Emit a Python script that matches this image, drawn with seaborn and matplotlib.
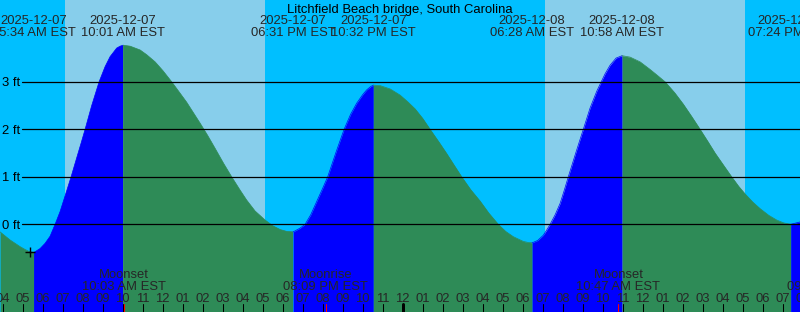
import numpy as np
import pandas as pd
import matplotlib
matplotlib.use("Agg")
import matplotlib.pyplot as plt
from matplotlib.transforms import blended_transform_factory
import seaborn as sns

# ---------------- data ----------------
title = "Litchfield Beach bridge, South Carolina"

hours = [3.87, 4.37, 4.87, 5.12, 5.37, 5.57, 5.87, 6.12, 6.37, 6.62, 6.87, 7.12, 7.42,
         7.70, 7.92, 8.12, 8.45, 8.82, 9.12, 9.37, 9.70, 9.87, 10.02, 10.37, 10.87,
         11.20, 11.62, 12.02, 12.45, 12.87, 13.20, 13.87, 14.25, 14.62, 15.05, 15.45,
         15.87, 16.20, 16.62, 17.12, 17.50, 17.87, 18.20, 18.52, 18.87, 19.12, 19.40,
         19.70, 20.00, 20.25, 20.65, 21.07, 21.40, 21.70, 22.00, 22.20, 22.40, 22.53,
         22.87, 23.37, 23.87, 24.25, 24.62, 25.00, 25.37, 25.80, 26.20, 26.55, 26.95,
         27.40, 27.87, 28.30, 28.78, 29.15, 29.53, 30.03, 30.25, 30.47, 30.75, 31.03,
         31.20, 31.37, 31.62, 31.87, 32.08, 32.28, 32.65, 33.03, 33.37, 33.70, 33.87,
         34.12, 34.37, 34.67, 34.97, 35.37, 35.87, 36.37, 36.75, 37.12, 37.60, 38.03,
         38.45, 38.87, 39.25, 39.62, 40.05, 40.45, 40.80, 41.12, 41.50, 41.87, 42.30,
         42.70, 43.05, 43.40, 43.87]
heights = [-0.16, -0.33, -0.47, -0.53, -0.58, -0.59, -0.51, -0.40, -0.25, 0.00, 0.27, 0.60, 1.00,
           1.40, 1.71, 2.00, 2.50, 3.00, 3.32, 3.53, 3.71, 3.75, 3.77, 3.75, 3.67,
           3.57, 3.42, 3.23, 3.00, 2.76, 2.57, 2.13, 1.87, 1.60, 1.28, 1.00,
           0.72, 0.51, 0.28, 0.09, -0.03, -0.11, -0.15, -0.16, -0.08, 0.00, 0.20,
           0.48, 0.76, 1.00, 1.50, 2.00, 2.32, 2.55, 2.73, 2.83, 2.90, 2.93,
           2.92, 2.85, 2.72, 2.58, 2.43, 2.23, 2.00, 1.74, 1.49, 1.26, 1.00,
           0.73, 0.49, 0.24, 0.00, -0.15, -0.26, -0.36, -0.38, -0.39, -0.34, -0.23,
           -0.12, 0.00, 0.20, 0.44, 0.72, 1.00, 1.50, 2.00, 2.45, 2.80, 2.95,
           3.17, 3.35, 3.50, 3.55, 3.52, 3.42, 3.26, 3.13, 3.00, 2.77, 2.53,
           2.27, 2.00, 1.75, 1.50, 1.24, 1.00, 0.80, 0.64, 0.47, 0.33, 0.19,
           0.09, 0.03, 0.00, 0.05]

event_hours = [5.57, 10.02, 18.52, 22.53, 30.47, 34.97, 43.40]
event_dates = ["2025-12-07", "2025-12-07", "2025-12-07", "2025-12-07",
               "2025-12-08", "2025-12-08", "2025-12-08"]
event_times = ["05:34 AM EST", "10:01 AM EST", "06:31 PM EST", "10:32 PM EST",
               "06:28 AM EST", "10:58 AM EST", "07:24 PM EST"]

sunrise_hours = [7.117, 31.117]
sunset_hours = [17.117, 41.117]

moon_hours = [10.05, 20.15, 34.783, 45.317]
moon_names = ["Moonset", "Moonrise", "Moonset", "Moonrise"]
moon_times = ["10:03 AM EST", "08:09 PM EST", "10:47 AM EST", "09:19 PM EST"]

now_hour = [5.37]
now_height = [-0.59]

ft_levels = [0, 1, 2, 3]
ft_labels = ["0 ft", "1 ft", "2 ft", "3 ft"]

# ---------------- style ----------------
NIGHT = "#00BFFF"
DAY = "#87CEEB"
RISE = "#0000FF"
FALL = "#2E8B57"
W, H = 800, 312
X0, X1 = 3.865, 43.865
Y0, Y1 = -1.846, 4.722
PX_PER_FT = 47.5
FS = 13 * 72 / 100

sns.set_theme(style="white")
plt.rcParams['font.family'] = ['Liberation Sans', 'DejaVu Sans']

fig = plt.figure(figsize=(W / 100, H / 100), dpi=100)
ax = fig.add_axes([0, 0, 1, 1])
ax.set_xlim(X0, X1)
ax.set_ylim(Y0, Y1)
ax.set_axis_off()
bt = blended_transform_factory(ax.transData, ax.transAxes)


def yf(py):
    return 1 - py / H


# background day / night
edges = [X0]
for r, s in zip(sunrise_hours, sunset_hours):
    edges += [r, s]
edges.append(X1)
for i in range(len(edges) - 1):
    ax.axvspan(edges[i], edges[i + 1], color=NIGHT if i % 2 == 0 else DAY, lw=0, zorder=0)

# tide segments (falling = green, rising = blue)
df = pd.DataFrame({"hour": hours, "height": heights})
bounds = [hours[0]] + event_hours + [hours[-1]]
parts = []
colors = []
for i in range(len(bounds) - 1):
    seg = df[(df.hour >= bounds[i] - 1e-9) & (df.hour <= bounds[i + 1] + 1e-9)].copy()
    if len(seg) < 2:
        continue
    seg["segment"] = str(len(parts))
    rising = seg.height.iloc[-1] > seg.height.iloc[0]
    c = RISE if rising else FALL
    colors.append(c)
    parts.append(seg)
    ax.fill_between(seg.hour, seg.height, Y0 - 1, color=c, lw=0, zorder=1)
long = pd.concat(parts, ignore_index=True)
sns.lineplot(data=long, x="hour", y="height", hue="segment", palette=colors,
             lw=0.5, legend=False, ax=ax, zorder=2, sort=False, estimator=None,
             solid_joinstyle="round")

# level lines
tft = blended_transform_factory(ax.transAxes, ax.transData)
for lv, lb in zip(ft_levels, ft_labels):
    ax.axhline(lv, xmin=21.7 / W, xmax=1, color="black", lw=0.9, zorder=3)
    ax.text(2 / W, lv - 1.2 / PX_PER_FT, lb, transform=tft,
            ha="left", va="center", fontsize=FS, color="black", zorder=4)

# now marker
ax.plot(now_hour, now_height, marker="+", ms=7, mew=1.0, color="black", ls="none", zorder=5)

# title and tide event labels
ax.text(0.5, yf(9.5), title, transform=ax.transAxes, ha="center", va="center",
        fontsize=FS, color="black", zorder=6)
for h, d, t in zip(event_hours, event_dates, event_times):
    ax.text(h, yf(21.5), d, transform=bt, ha="center", va="center", fontsize=FS, zorder=6)
    ax.text(h, yf(33.3), t, transform=bt, ha="center", va="center", fontsize=FS, zorder=6)

# hour ticks and labels
for h in range(int(np.floor(X0)), int(np.ceil(X1)) + 1):
    lw = 3.0 * 72 / 100 if h % 24 == 0 else 0.75
    ax.axvline(h, ymin=0, ymax=8 / H, color="black", lw=lw, zorder=4)
    lab = "%02d" % (((h % 12) + 11) % 12 + 1)
    ax.text(h, yf(299.5), lab, transform=bt, ha="center", va="center", fontsize=FS, zorder=6)

# moon events
for h, n, t in zip(moon_hours, moon_names, moon_times):
    ax.axvline(h, ymin=0, ymax=8 / H, color="red", lw=0.75, zorder=5)
    ax.text(h, yf(275.5), n, transform=bt, ha="center", va="center", fontsize=FS, zorder=6)
    ax.text(h, yf(287.0), t, transform=bt, ha="center", va="center", fontsize=FS, zorder=6)

fig.savefig("out.png", dpi=100)
